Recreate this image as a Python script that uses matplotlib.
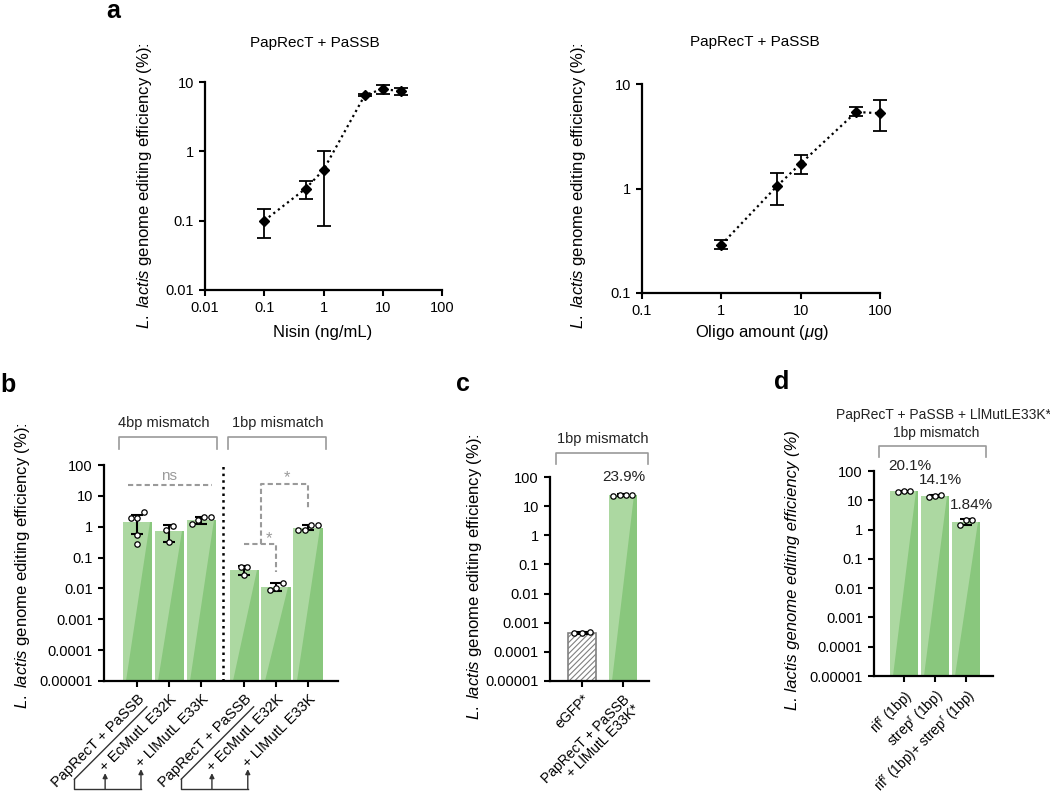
import numpy as np
import matplotlib
matplotlib.use('Agg')
import matplotlib.pyplot as plt
from matplotlib.patches import Polygon, FancyArrowPatch
from matplotlib.lines import Line2D
from matplotlib.ticker import NullLocator

plt.rcParams['font.family'] = ['Liberation Sans', 'DejaVu Sans']
plt.rcParams['mathtext.fontset'] = 'custom'
plt.rcParams['mathtext.rm'] = 'Liberation Sans'
plt.rcParams['mathtext.it'] = 'Liberation Sans:italic'
plt.rcParams['mathtext.bf'] = 'Liberation Sans:bold'
plt.rcParams['hatch.color'] = '#8a8a8a'
plt.rcParams['hatch.linewidth'] = 0.8

# ---- panel a data ----
nisin = [0.1, 0.5, 1, 5, 10, 20]
nisin_eff = [0.10, 0.29, 0.54, 6.5, 7.9, 7.4]
nisin_lo = [0.056, 0.205, 0.085, 6.3, 6.8, 6.5]
nisin_hi = [0.145, 0.375, 1.0, 6.7, 9.0, 8.1]

oligo = [1, 5, 10, 50, 100]
oligo_eff = [0.29, 1.05, 1.73, 5.4, 5.25]
oligo_lo = [0.263, 0.70, 1.37, 4.9, 3.55]
oligo_hi = [0.32, 1.40, 2.08, 5.98, 7.1]

# ---- panel b data ----
b_labels = ['PapRecT + PaSSB', '+ EcMutL E32K', '+ LlMutL E33K',
            'PapRecT + PaSSB', '+ EcMutL E32K', '+ LlMutL E33K']
b_mean = [1.45, 0.70, 1.60, 0.041, 0.0112, 0.90]
b_lo = [0.56, 0.33, 1.25, 0.027, 0.0085, 0.76]
b_hi = [2.4, 1.1, 2.0, 0.055, 0.0155, 1.15]
b_points = [[2.9, 1.86, 1.86, 0.55, 0.27], [1.07, 0.81, 0.31],
            [2.0, 1.25, 1.6, 2.0], [0.05, 0.05, 0.027],
            [0.0155, 0.0092, 0.0107], [1.12, 0.78, 0.78, 1.15]]

# ---- panel c data ----
c_labels = ['eGFP*', 'PapRecT + PaSSB\n+ LlMutL E33K*']
c_mean = [0.00045, 23.9]
c_lo = [0.00042, 21.5]
c_hi = [0.00048, 25.5]
c_points = [[0.00048, 0.00043, 0.00046], [25.0, 21.5, 24.5, 24.8]]

# ---- panel d data ----
d_labels = ['rif$^{\\mathrm{r}}$ (1bp)', 'strep$^{\\mathrm{r}}$ (1bp)',
            'rif$^{\\mathrm{r}}$ (1bp)+ strep$^{\\mathrm{r}}$ (1bp)']
d_mean = [20.1, 14.1, 1.84]
d_lo = [19.6, 13.3, 1.45]
d_hi = [20.6, 14.8, 2.25]
d_points = [[20.5, 19.8, 20.0], [14.6, 13.4, 14.3], [2.2, 1.45, 2.1]]

YMIN = 1e-5
LIGHT = '#acd8a1'
DARK = '#89c77d'
GREY = '#9a9a9a'
W, H = 1050, 795

fig = plt.figure(figsize=(W / 100, H / 100), dpi=100)


def fx(x):
    return x / W


def fy(y):
    return 1 - y / H


def axes_px(x0, x1, y0, y1):
    return fig.add_axes([fx(x0), fy(y1), (x1 - x0) / W, (y1 - y0) / H])


def style_axis(ax, size=10.5):
    for s in ['top', 'right']:
        ax.spines[s].set_visible(False)
    for s in ['left', 'bottom']:
        ax.spines[s].set_linewidth(1.6)
    ax.tick_params(width=1.5, length=4.5, labelsize=size, color='black')
    ax.xaxis.set_minor_locator(NullLocator())
    ax.yaxis.set_minor_locator(NullLocator())


def fmt(v):
    return ('%f' % v).rstrip('0').rstrip('.')


def log_axes(ax, ticks, axis='y'):
    labels = [fmt(t) for t in ticks]
    if axis == 'y':
        ax.set_yscale('log')
        ax.set_yticks(ticks)
        ax.set_yticklabels(labels)
        ax.set_ylim(ticks[0], ticks[-1])
        ax.yaxis.set_minor_locator(NullLocator())
    else:
        ax.set_xscale('log')
        ax.set_xticks(ticks)
        ax.set_xticklabels(labels)
        ax.set_xlim(ticks[0], ticks[-1])
        ax.xaxis.set_minor_locator(NullLocator())


def swarm(vals, step=0.2, thr=0.2):
    # spread points that sit close together (in log units)
    order = np.argsort(np.log10(vals))
    lv = np.log10(vals)[order]
    offs = np.zeros(len(vals))
    groups = [[order[0]]]
    for i in range(1, len(order)):
        if lv[i] - np.log10(vals[groups[-1][-1]]) < thr:
            groups[-1].append(order[i])
        else:
            groups.append([order[i]])
    for g in groups:
        n = len(g)
        for k, idx in enumerate(g):
            offs[idx] = (k - (n - 1) / 2) * step
    return offs


def dots(ax, x, p, step):
    ax.scatter(x + swarm(p, step=step), p, s=15, facecolor='white',
               edgecolor='black', linewidth=0.9, zorder=4, clip_on=False)


def green_bars(ax, pos, mean, lo, hi, pts, width, step=0.2):
    for x, m, l, h, p in zip(pos, mean, lo, hi, pts):
        left, right = x - width / 2, x + width / 2
        ax.bar(x, m - YMIN, bottom=YMIN, width=width, color=LIGHT, lw=0, zorder=1)
        ax.add_patch(Polygon([(left + 0.12 * width, YMIN), (right, YMIN), (right, m),
                              (right - 0.08 * width, m)], closed=True,
                             facecolor=DARK, lw=0, zorder=1.5))
        ax.errorbar(x, m, yerr=[[m - l], [h - m]], fmt='none', ecolor='black',
                    elinewidth=1.5, capsize=4, capthick=1.5, zorder=3)
        dots(ax, x, p, step)


def bracket(x0, x1, ytop, ybot, color=GREY):
    fig.add_artist(Line2D([fx(x0), fx(x0), fx(x1), fx(x1)],
                          [fy(ybot), fy(ytop), fy(ytop), fy(ybot)],
                          transform=fig.transFigure, color=color, lw=1.2))


ylab = '$\\mathit{L.\\ lactis}$ genome editing efficiency (%):'

# ================= panel a (left) =================
ax1 = axes_px(205, 442, 82, 290)
style_axis(ax1)
log_axes(ax1, [0.01, 0.1, 1, 10], 'y')
log_axes(ax1, [0.01, 0.1, 1, 10, 100], 'x')
ax1.errorbar(nisin, nisin_eff,
             yerr=[np.subtract(nisin_eff, nisin_lo), np.subtract(nisin_hi, nisin_eff)],
             fmt='D', color='black', ms=5.5, lw=1.6, ls=(0, (1, 1.6)),
             elinewidth=1.3, capsize=5, capthick=1.3, clip_on=False)
fig.text(fx(315), fy(43), 'PapRecT + PaSSB', ha='center', va='center', fontsize=11)
fig.text(fx(323), fy(333), 'Nisin (ng/mL)', ha='center', va='center', fontsize=12)
fig.text(fx(145), fy(186), ylab, ha='center', va='center', rotation=90, fontsize=12)

# ================= panel a (right) =================
ax2 = axes_px(642, 880, 84, 293)
style_axis(ax2)
log_axes(ax2, [0.1, 1, 10], 'y')
log_axes(ax2, [0.1, 1, 10, 100], 'x')
ax2.errorbar(oligo, oligo_eff,
             yerr=[np.subtract(oligo_eff, oligo_lo), np.subtract(oligo_hi, oligo_eff)],
             fmt='D', color='black', ms=5.5, lw=1.6, ls=(0, (1, 1.6)),
             elinewidth=1.3, capsize=5, capthick=1.3, clip_on=False)
fig.text(fx(755), fy(42), 'PapRecT + PaSSB', ha='center', va='center', fontsize=11)
fig.text(fx(762), fy(333), 'Oligo amount ($\\mu$g)', ha='center', va='center', fontsize=12)
fig.text(fx(578), fy(186), ylab, ha='center', va='center', rotation=90, fontsize=12)

# ================= panel b =================
dec = [1e-5, 1e-4, 1e-3, 1e-2, 1e-1, 1, 10, 100]
b_pos = np.r_[np.arange(3), np.arange(3) + 3.35]
ax3 = axes_px(104, 338, 465, 681)
style_axis(ax3)
log_axes(ax3, dec, 'y')
green_bars(ax3, b_pos, b_mean, b_lo, b_hi, b_points, 0.92)
ax3.set_xlim(-1.05, b_pos[-1] + 0.94)
ax3.set_xticks(b_pos)
ax3.set_xticklabels(b_labels, rotation=45, ha='right', rotation_mode='anchor')
ax3.axvline(2.67, color='black', ls=':', lw=1.8, zorder=0)
# significance marks
dash = (0, (2.5, 1.5))
ax3.plot([-0.3, 2.33], [22, 22], color=GREY, ls=dash, lw=1.5, clip_on=False)
ax3.text(1.0, 45, 'ns', color=GREY, ha='center', va='center', fontsize=11)
ax3.plot([b_pos[3], b_pos[4], b_pos[4]], [0.27, 0.27, 0.033], color=GREY,
         ls=dash, lw=1.5, clip_on=False)
ax3.plot([3.86, 3.86, b_pos[5], b_pos[5]], [0.27, 24, 24, 3.5], color=GREY,
         ls=dash, lw=1.5, clip_on=False)
ax3.text(4.12, 0.4, '*', color=GREY, ha='center', va='center', fontsize=12)
ax3.text(4.7, 40, '*', color=GREY, ha='center', va='center', fontsize=12)
fig.text(fx(164), fy(423), '4bp mismatch', ha='center', va='center', fontsize=10.5, color='#222')
fig.text(fx(278), fy(423), '1bp mismatch', ha='center', va='center', fontsize=10.5, color='#222')
bracket(119, 217, 437, 449)
bracket(228, 326, 437, 449)
fig.text(fx(23), fy(566), ylab, ha='center', va='center', rotation=90, fontsize=12)

# ================= panel c =================
ax4 = axes_px(550, 649, 477, 681)
style_axis(ax4)
log_axes(ax4, dec, 'y')
c_pos = np.arange(2)
ax4.bar(c_pos[0], c_mean[0] - YMIN, bottom=YMIN, width=0.69, facecolor='white',
        edgecolor='#808080', hatch='//////', lw=1.2, zorder=1)
ax4.errorbar(c_pos[0], c_mean[0], yerr=[[c_mean[0] - c_lo[0]], [c_hi[0] - c_mean[0]]],
             fmt='none', ecolor='black', elinewidth=1.5, capsize=4, capthick=1.5, zorder=3)
dots(ax4, c_pos[0], c_points[0], 0.2)
green_bars(ax4, c_pos[1:], c_mean[1:], c_lo[1:], c_hi[1:], c_points[1:], 0.69, step=0.15)
ax4.set_xlim(-0.79, 1.65)
ax4.set_xticks(c_pos)
ax4.set_xticklabels(c_labels, rotation=45, ha='right', rotation_mode='anchor',
                    multialignment='right', linespacing=1.0, fontsize=10)
ax4.annotate('%.1f%%' % c_mean[1], (c_pos[1], c_mean[1]), xytext=(1, 8),
             textcoords='offset points', ha='center', va='bottom', fontsize=11, color='#222')
fig.text(fx(603), fy(439), '1bp mismatch', ha='center', va='center', fontsize=10.5, color='#222')
bracket(556, 648, 453, 464)
fig.text(fx(475), fy(577), ylab, ha='center', va='center', rotation=90, fontsize=12)

# ================= panel d =================
ax5 = axes_px(874, 993, 471, 676)
style_axis(ax5)
log_axes(ax5, dec, 'y')
d_pos = np.arange(3)
green_bars(ax5, d_pos, d_mean, d_lo, d_hi, d_points, 0.9)
ax5.set_xlim(-0.97, 2.87)
ax5.set_xticks(d_pos)
ax5.set_xticklabels(d_labels, rotation=45, ha='right', rotation_mode='anchor', fontsize=10)
for x, m, dy in zip(d_pos, d_mean, [13, 6.5, 7]):
    ax5.annotate(('%.1f%%' % m) if m >= 10 else ('%.2f%%' % m), (x, m), xytext=(4, dy),
                 textcoords='offset points', ha='center', va='bottom', fontsize=11, color='#222')
fig.text(fx(943), fy(415), 'PapRecT + PaSSB + LlMutLE33K*', ha='center', va='center',
         fontsize=10, color='#222')
fig.text(fx(936), fy(433), '1bp mismatch', ha='center', va='center', fontsize=10, color='#222')
bracket(879, 986, 446, 457)
fig.text(fx(793), fy(570), 'L. lactis genome editing efficiency (%)', ha='center',
         va='center', rotation=90, fontsize=12, style='italic')

# panel letters
for letter, x, y in [('a', 113, 11), ('b', 8, 385), ('c', 463, 384), ('d', 782, 382)]:
    fig.text(fx(x), fy(y), letter, ha='center', va='center', fontsize=18, fontweight='bold')

# ---- connectors under panel b tick labels (placed from the drawn labels) ----
fig.canvas.draw()
rend = fig.canvas.get_renderer()
labs = ax3.get_xticklabels()
u = np.array([1, 1]) / np.sqrt(2)
n = np.array([1, -1]) / np.sqrt(2)


def label_geom(t):
    bb = t.get_window_extent(rend)
    rot = t.get_rotation()
    t.set_rotation(0)
    b0 = t.get_window_extent(rend)
    t.set_rotation(rot)
    w, h = b0.width, b0.height
    start = np.array([bb.x0 + h / np.sqrt(2), bb.y0])
    return start, w, h


def to_fig(p):
    return p[0] / fig.bbox.width, p[1] / fig.bbox.height


for g in (0, 3):
    s0, w0, h0 = label_geom(labs[g])
    p0 = s0 + 0.15 * w0 * u + 3 * n
    p1 = s0 + 0.97 * w0 * u + 3 * n
    fig.add_artist(Line2D(*zip(to_fig(p0), to_fig(p1)), transform=fig.transFigure,
                          color='#333', lw=1))
    tips = []
    for k in (g + 1, g + 2):
        sk, wk, hk = label_geom(labs[k])
        tips.append(np.array([sk[0] - 2, sk[1] + 1]))
    ybase = 6
    xs = [p0[0], p0[0], tips[-1][0]]
    ys = [p0[1], ybase, ybase]
    fig.add_artist(Line2D([v / fig.bbox.width for v in xs], [v / fig.bbox.height for v in ys],
                          transform=fig.transFigure, color='#333', lw=1))
    for tp in tips:
        fig.add_artist(FancyArrowPatch(to_fig((tp[0], ybase)), to_fig(tp),
                                       transform=fig.transFigure, arrowstyle='-|>',
                                       mutation_scale=7, color='#333', lw=1,
                                       shrinkA=0, shrinkB=0))

plt.savefig('out.png', dpi=100)
